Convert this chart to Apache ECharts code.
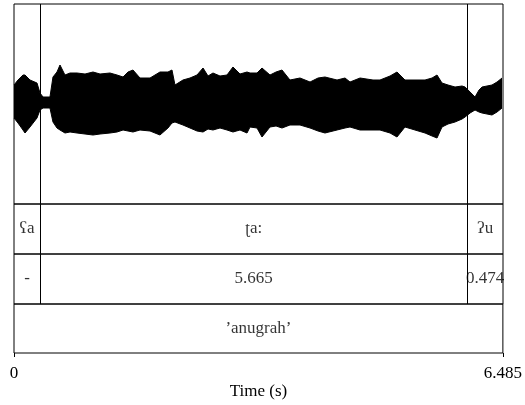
<!DOCTYPE html>
<html>
<head>
<meta charset="utf-8">
<script src="https://cdn.jsdelivr.net/npm/echarts@6/dist/echarts.min.js"></script>
<style>
  html, body { margin: 0; padding: 0; background: #fff; }
  #chart { width: 525px; height: 405px; }
</style>
</head>
<body>
<div id="chart"></div>
<script>
// Total duration of the recording (s)
const duration = 6.485;

// Amplitude envelope of the waveform: sample times (s), upper and lower peaks
const envTimes = [0.000, 0.053, 0.119, 0.146, 0.212, 0.305, 0.345, 0.385, 0.477, 0.517,
  0.570, 0.610, 0.676, 0.743, 0.836, 0.942, 1.048, 1.141, 1.273, 1.366,
  1.446, 1.512, 1.578, 1.671, 1.804, 1.936, 2.042, 2.095, 2.135, 2.241,
  2.334, 2.427, 2.507, 2.573, 2.639, 2.732, 2.825, 2.904, 2.997, 3.090,
  3.130, 3.223, 3.289, 3.395, 3.475, 3.554, 3.660, 3.793, 3.926, 4.032,
  4.124, 4.284, 4.390, 4.456, 4.589, 4.761, 4.854, 4.987, 5.079, 5.185,
  5.318, 5.451, 5.544, 5.610, 5.676, 5.756, 5.849, 5.942, 5.982, 6.048,
  6.114, 6.167, 6.207, 6.273, 6.339, 6.406, 6.472];
const envUpper = [0.19, 0.24, 0.29, 0.29, 0.24, 0.21, 0.11, 0.07, 0.07, 0.27,
  0.32, 0.39, 0.29, 0.31, 0.31, 0.30, 0.32, 0.30, 0.31, 0.29,
  0.27, 0.32, 0.34, 0.26, 0.26, 0.32, 0.32, 0.34, 0.19, 0.24,
  0.26, 0.29, 0.36, 0.28, 0.31, 0.28, 0.29, 0.37, 0.30, 0.32,
  0.31, 0.31, 0.36, 0.29, 0.32, 0.34, 0.24, 0.26, 0.22, 0.26,
  0.27, 0.24, 0.26, 0.22, 0.26, 0.24, 0.24, 0.28, 0.32, 0.24,
  0.24, 0.24, 0.26, 0.29, 0.21, 0.19, 0.17, 0.18, 0.17, 0.12,
  0.07, 0.14, 0.17, 0.18, 0.19, 0.22, 0.26];
const envLower = [-0.14, -0.19, -0.26, -0.29, -0.23, -0.14, -0.06, -0.04, -0.04, -0.18,
  -0.24, -0.26, -0.29, -0.28, -0.29, -0.30, -0.31, -0.30, -0.29, -0.28,
  -0.26, -0.27, -0.28, -0.26, -0.27, -0.31, -0.24, -0.19, -0.18, -0.21,
  -0.24, -0.27, -0.28, -0.25, -0.26, -0.24, -0.26, -0.28, -0.26, -0.29,
  -0.23, -0.24, -0.33, -0.23, -0.22, -0.24, -0.21, -0.21, -0.24, -0.27,
  -0.29, -0.26, -0.24, -0.23, -0.26, -0.26, -0.26, -0.29, -0.33, -0.23,
  -0.26, -0.29, -0.32, -0.34, -0.23, -0.20, -0.18, -0.15, -0.13, -0.09,
  -0.06, -0.08, -0.09, -0.10, -0.11, -0.08, -0.04];

// Interval boundaries (s) shared by the syllable and duration tiers
const boundaries = [0.346, 6.011];
// Syllable tier labels, one per interval
const syllables = ['ʕa', 'ʈa:', 'ʔu'];
// Duration tier labels (s)
const durations = ['-', '5.665', '0.474'];
// Word tier label
const word = '’anugrah’';
// Tick labels on the time axis
const timeTicks = [0, 6.485];

const FONT = 'Liberation Serif, DejaVu Serif, serif';
const FONT_SIZE = 17;
const edges = [0].concat(boundaries, [duration]);
const mids = edges.slice(0, -1).map((e, i) => (e + edges[i + 1]) / 2);

const chart = echarts.init(document.getElementById('chart'), null, { renderer: 'canvas' });

const gridBase = { left: 14, right: 22, show: true, borderColor: '#000', borderWidth: 1, backgroundColor: 'transparent' };
const grids = [
  Object.assign({ top: 4, height: 200 }, gridBase),
  Object.assign({ top: 204, height: 50 }, gridBase),
  Object.assign({ top: 254, height: 50 }, gridBase),
  Object.assign({ top: 304, height: 49 }, gridBase)
];

const hiddenX = i => ({
  type: 'value', gridIndex: i, min: 0, max: duration, show: false
});
const xAxes = [hiddenX(0), hiddenX(1), hiddenX(2), {
  type: 'value', gridIndex: 3, min: 0, max: duration,
  axisLine: { show: false },
  splitLine: { show: false },
  axisTick: { show: true, length: 4, lineStyle: { color: '#000' }, customValues: timeTicks },
  axisLabel: {
    show: true, customValues: timeTicks, margin: 12,
    color: '#000', fontFamily: FONT, fontSize: FONT_SIZE,
    formatter: v => (v === 0 ? '0' : String(v))
  },
  name: 'Time (s)', nameLocation: 'middle', nameGap: 30,
  nameTextStyle: { color: '#000', fontFamily: FONT, fontSize: FONT_SIZE }
}];
const yAxes = [
  { type: 'value', gridIndex: 0, min: -1, max: 1, show: false },
  { type: 'value', gridIndex: 1, min: 0, max: 1, show: false },
  { type: 'value', gridIndex: 2, min: 0, max: 1, show: false },
  { type: 'value', gridIndex: 3, min: 0, max: 1, show: false }
];

const boundaryLines = gi => ({
  type: 'line', xAxisIndex: gi, yAxisIndex: gi, data: [], silent: true,
  markLine: {
    symbol: 'none', silent: true, animation: false,
    label: { show: false },
    lineStyle: { color: '#000', width: 1, type: 'solid' },
    data: boundaries.map(b => ({ xAxis: b }))
  }
});

const tierText = (gi, items) => ({
  type: 'scatter', xAxisIndex: gi, yAxisIndex: gi, symbolSize: 0, silent: true,
  data: items.map(it => ({ value: [it.x, 0.5], name: it.text })),
  label: {
    show: true, position: 'inside', formatter: p => p.name,
    color: '#000', fontFamily: FONT, fontSize: FONT_SIZE
  }
});

const envSeries = vals => ({
  type: 'line', xAxisIndex: 0, yAxisIndex: 0, showSymbol: false, silent: true,
  data: envTimes.map((t, i) => [t, vals[i]]),
  lineStyle: { color: '#000', width: 1 },
  areaStyle: { color: '#000', opacity: 1, origin: 0 }
});

chart.setOption({
  animation: false,
  grid: grids,
  xAxis: xAxes,
  yAxis: yAxes,
  series: [
    envSeries(envUpper),
    envSeries(envLower),
    boundaryLines(0),
    boundaryLines(1),
    boundaryLines(2),
    tierText(1, syllables.map((s, i) => ({ x: mids[i], text: s }))),
    tierText(2, durations.map((s, i) => ({ x: mids[i], text: s }))),
    tierText(3, [{ x: duration / 2, text: word }])
  ]
});
</script>
</body>
</html>
